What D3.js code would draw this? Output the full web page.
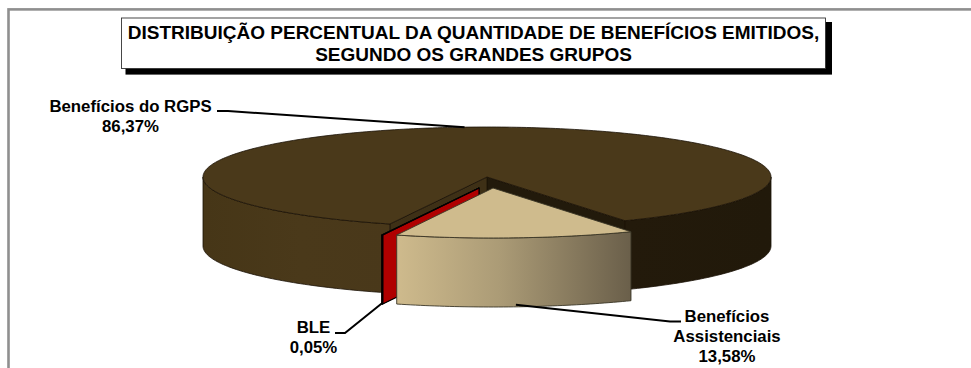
<!DOCTYPE html>
<html>
<head>
<meta charset="utf-8">
<script src="https://cdn.jsdelivr.net/npm/d3@7"></script>
<style>
  body { margin: 0; background: #fff; }
  svg { display: block; }
  text { font-family: "Liberation Sans", Arial, sans-serif; font-weight: bold; fill: #000; }
</style>
</head>
<body>
<div id="chart"></div>
<script>
// Data
const categories = ["Benefícios do RGPS", "Benefícios Assistenciais", "BLE"];
const shares = [86.37, 13.58, 0.05];
const shareLabels = ["86,37%", "13,58%", "0,05%"];
const titleLines = [
  "DISTRIBUIÇÃO PERCENTUAL DA QUANTIDADE DE BENEFÍCIOS EMITIDOS,",
  "SEGUNDO OS GRANDES GRUPOS"
];

const width = 971, height = 368;

const svg = d3.select("#chart").append("svg")
    .attr("width", width)
    .attr("height", height);

// Outer frame runs off the right and bottom of the picture
svg.append("rect")
    .attr("x", 8.5).attr("y", 9.4)
    .attr("width", 1000).attr("height", 500)
    .attr("fill", "#fff")
    .attr("stroke", "#8f8f8f")
    .attr("stroke-width", 2.6);

// Title box with its hard shadow
svg.append("rect")
    .attr("x", 125.5).attr("y", 22)
    .attr("width", 706.5).attr("height", 52.6)
    .attr("fill", "#000");
svg.append("rect")
    .attr("x", 121.5).attr("y", 18)
    .attr("width", 704).attr("height", 50.5)
    .attr("fill", "#fff")
    .attr("stroke", "#333")
    .attr("stroke-width", 0.9);
svg.selectAll(".title")
  .data(titleLines)
  .join("text")
    .attr("class", "title")
    .attr("x", 473.5)
    .attr("y", (d, i) => 39.4 + i * 21.8)
    .attr("text-anchor", "middle")
    .attr("font-size", 19)
    .text(d => d);

// Tilted pie: a flat circle squashed into an ellipse, then extruded downwards
const cx = 487, cy = 177, rx = 284, ry = 50, depth = 69;
const deg = Math.PI / 180;

const pie = d3.pie()
    .sort(null)
    .startAngle(200 * deg)
    .endAngle(560 * deg);
const arcs = pie(shares);

// How far each slice was pulled out of the pie
const offsets = [[0, 0], [6, 11], [-8, 11]];

const project = (a, off, r = 1, drop = 0) => [
  cx + off[0] + rx * r * Math.sin(a),
  cy + off[1] - ry * r * Math.cos(a) + drop
];

const line = d3.line();
const sweep = (a0, a1, off, drop) => {
  const n = Math.max(2, Math.ceil((a1 - a0) / deg) + 1);
  return d3.range(n).map(i => project(a0 + (a1 - a0) * i / (n - 1), off, 1, drop));
};
const topPath = (d, off) =>
  line([project(0, off, 0), ...sweep(d.startAngle, d.endAngle, off, 0)]) + "Z";
const facePath = (a, off) =>
  line([project(a, off, 0), project(a, off), project(a, off, 1, depth), project(a, off, 0, depth)]) + "Z";
const wallPath = (a0, a1, off) =>
  line([...sweep(a0, a1, off, 0), ...sweep(a0, a1, off, depth).reverse()]) + "Z";

// Parts of the rim that face the viewer (90° to 270°, repeated every turn)
const frontRanges = d => [0, 1].map(k => [
  Math.max(d.startAngle, (90 + 360 * k) * deg),
  Math.min(d.endAngle, (270 + 360 * k) * deg)
]).filter(r => r[0] < r[1]);

const defs = svg.append("defs");
const gradient = (id, stops) => defs.append("linearGradient")
    .attr("id", id)
    .attr("gradientUnits", "userSpaceOnUse")
    .attr("x1", 203).attr("x2", 771).attr("y1", 0).attr("y2", 0)
  .selectAll("stop")
  .data(stops)
  .join("stop")
    .attr("offset", d => (d[0] - 203) / 568)
    .attr("stop-color", d => d[1]);

gradient("wallMain", [[203, "#463617"], [300, "#4a391a"], [392, "#49381a"], [627, "#231a0b"], [771, "#21190a"]]);
gradient("wallTan", [[395, "#cfbb8d"], [500, "#ab9b76"], [631, "#6a5f4a"]]);

const sliceStyles = [
  { top: "#4a391a", wall: "url(#wallMain)", faces: ["#3e3016", "#221a0b"], stroke: "#1a1206", sw: 0.8 },
  { top: "#cfbb8d", wall: "url(#wallTan)", faces: null, stroke: "#3a3626", sw: 0.9 },
  { top: "#b00000", wall: "#b00000", faces: ["#b00000", "#b00000"], stroke: "#000", sw: 1.2 }
];

// Paint back to front: main body, then the BLE sliver, then the tan slice
[0, 2, 1].forEach(i => {
  const d = arcs[i], off = offsets[i], s = sliceStyles[i];
  const g = svg.append("g")
      .attr("stroke", s.stroke)
      .attr("stroke-width", s.sw)
      .attr("stroke-linejoin", "round");
  if (s.faces) {
    g.append("path").attr("d", facePath(d.endAngle, off)).attr("fill", s.faces[1]);
    g.append("path").attr("d", facePath(d.startAngle, off)).attr("fill", s.faces[0]);
  }
  frontRanges(d).forEach(r => {
    g.append("path").attr("d", wallPath(r[0], r[1], off)).attr("fill", s.wall);
  });
  g.append("path").attr("d", topPath(d, off)).attr("fill", s.top);
});

// Leader lines start at each slice's middle angle
const mid = d => (d.startAngle + d.endAngle) / 2;
const leaders = [
  [project(mid(arcs[0]), offsets[0]), [228, 111], [217, 111]],
  [project(mid(arcs[1]), offsets[1], 1, depth - 2), [670, 321.5], [681, 321.5]],
  [project(mid(arcs[2]), offsets[2], 1, depth - 1), [345, 333], [335, 333]]
];
svg.selectAll(".leader")
  .data(leaders)
  .join("path")
    .attr("class", "leader")
    .attr("d", d => line(d))
    .attr("fill", "none")
    .attr("stroke", "#000")
    .attr("stroke-width", 2);

// Labels
const labelBlocks = [
  { x: 130.5, y: 112, lines: [categories[0], shareLabels[0]] },
  { x: 727, y: 322, lines: ["Benefícios", "Assistenciais", shareLabels[1]] },
  { x: 313.5, y: 333, lines: [categories[2], shareLabels[2]] }
];
labelBlocks.forEach(b => {
  svg.append("g").selectAll("text")
    .data(b.lines)
    .join("text")
      .attr("x", b.x)
      .attr("y", (d, i) => b.y + i * 19.8)
      .attr("text-anchor", "middle")
      .attr("font-size", 16.8)
      .text(d => d);
});
</script>
</body>
</html>
